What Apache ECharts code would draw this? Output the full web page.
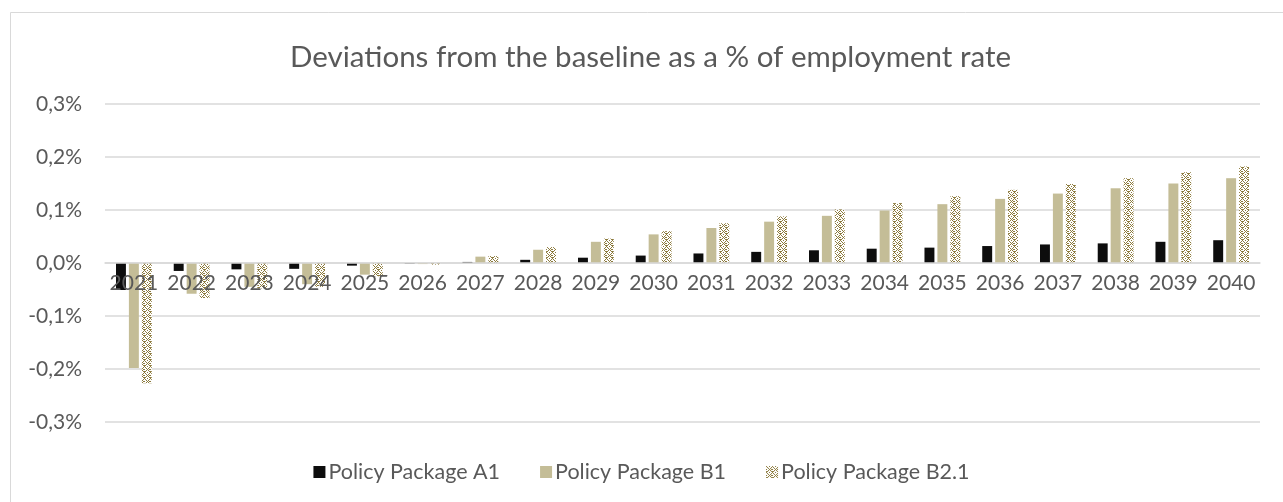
<!DOCTYPE html>
<html>
<head>
<meta charset="utf-8">
<script src="https://cdn.jsdelivr.net/npm/echarts@6/dist/echarts.min.js"></script>
<style>
html,body{margin:0;padding:0;background:#fff;}
#chart{width:1283px;height:502px;}
</style>
</head>
<body>
<div id="chart"></div>
<script>
const categories = ['2021','2022','2023','2024','2025','2026','2027','2028','2029','2030','2031','2032','2033','2034','2035','2036','2037','2038','2039','2040'];
const seriesNames = ['Policy Package A1','Policy Package B1','Policy Package B2.1'];
const valuesA1 = [-0.051,-0.015,-0.012,-0.011,-0.005,-0.001,0.002,0.006,0.010,0.014,0.018,0.021,0.024,0.027,0.029,0.032,0.035,0.037,0.040,0.043];
const valuesB1 = [-0.198,-0.058,-0.045,-0.040,-0.022,-0.002,0.012,0.025,0.040,0.054,0.066,0.078,0.089,0.099,0.111,0.121,0.131,0.141,0.150,0.160];
const valuesB21 = [-0.227,-0.066,-0.048,-0.045,-0.025,-0.003,0.013,0.030,0.046,0.060,0.075,0.088,0.101,0.113,0.126,0.138,0.149,0.160,0.171,0.182];
const yTicks = [-0.3,-0.2,-0.1,0,0.1,0.2,0.3];
const yMin = -0.3, yMax = 0.3;

function makePattern(){
  const c = document.createElement('canvas');
  c.width = 6; c.height = 6;
  const g = c.getContext('2d');
  g.fillStyle = '#ffffff'; g.fillRect(0,0,6,6);
  g.fillStyle = '#8c7a3c';
  const px = [[0,0],[1,1],[2,2],[4,2],[5,1],[3,3],[2,4],[1,5],[4,4],[5,5],[0,3],[5,3],[3,0],[0,5]];
  px.forEach(p=>g.fillRect(p[0],p[1],1,1));
  return c;
}
const pattern = {image: makePattern(), repeat: 'repeat'};

const gridTop = 104, gridBottom = 80, H = 502;
const plotH = H - gridTop - gridBottom;
// offset the category axis so it sits at the value-axis zero (like Excel)
const zeroOffset = -plotH * (0 - yMin) / (yMax - yMin);

const font = 'Lato, "Open Sans", sans-serif';
const chart = echarts.init(document.getElementById('chart'), null, {renderer:'canvas'});
chart.setOption({
  animation:false,
  backgroundColor:'#ffffff',
  title:{
    text:'Deviations from the baseline as a % of employment rate',
    left:285, top:37,
    textStyle:{fontFamily:font, fontWeight:400, fontSize:29.5, color:'#595959'}
  },
  graphic:[{type:'rect', shape:{x:10.5,y:12.5,width:1300,height:520}, style:{fill:'none', stroke:'#d9d9d9', lineWidth:1}, silent:true, z:-1}],
  legend:{
    bottom:14, left:'center', itemWidth:12, itemHeight:12, itemGap:40, icon:'rect',
    textStyle:{fontFamily:font, fontSize:21.5, color:'#595959', padding:[0,0,0,-2]},
    data:seriesNames
  },
  grid:{left:105, right:23, top:gridTop, bottom:gridBottom, containLabel:false},
  xAxis:{
    type:'category', data:categories, offset: zeroOffset, z:5,
    axisLine:{onZero:false, lineStyle:{color:'#d9d9d9', width:1.5}},
    axisTick:{show:false},
    axisLabel:{fontFamily:font, fontSize:21, color:'#595959', margin:10, interval:0},
    splitLine:{show:false}
  },
  yAxis:{
    type:'value', min:yMin, max:yMax, interval:0.1,
    axisLine:{show:false}, axisTick:{show:false},
    axisLabel:{fontFamily:font, fontSize:21, color:'#595959', margin:23,
      formatter:v=>{ const t = yTicks.find(x=>Math.abs(x-v)<1e-9); return (t!==undefined? t: v).toFixed(1).replace('.',',')+'%'; }},
    splitLine:{lineStyle:{color:'#d9d9d9', width:1.5}}
  },
  series:[
    {name:seriesNames[0], type:'bar', data:valuesA1, barGap:'30%', barCategoryGap:'38%', itemStyle:{color:'#0d0d0d'}},
    {name:seriesNames[1], type:'bar', data:valuesB1, barGap:'30%', barCategoryGap:'38%', itemStyle:{color:'#c4bd97'}},
    {name:seriesNames[2], type:'bar', data:valuesB21, barGap:'30%', barCategoryGap:'38%', itemStyle:{color:pattern}}
  ]
});
</script>
</body>
</html>
